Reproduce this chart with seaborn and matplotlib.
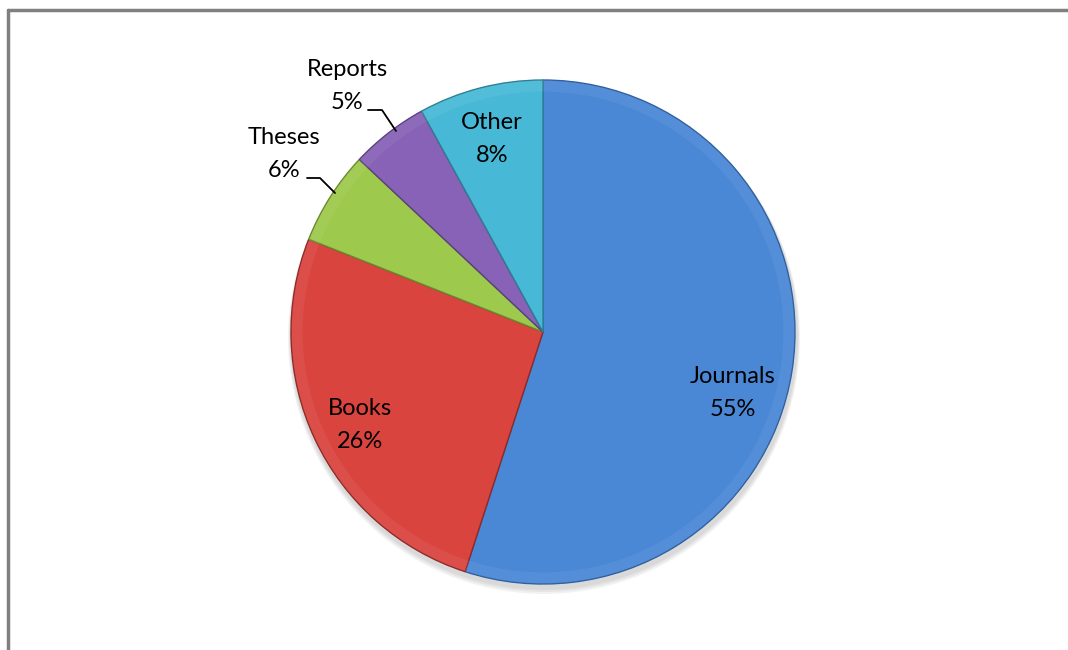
import matplotlib.pyplot as plt
import seaborn as sns
from matplotlib.patches import Circle

# data
categories = ['Journals', 'Books', 'Theses', 'Reports', 'Other']
shares = [55, 26, 6, 5, 8]
colors = ['#4a88d6', '#d9443f', '#9dc94c', '#8862b6', '#47b9d6']
edges = ['#2f5f9e', '#8e2a27', '#6a8a30', '#5a3f80', '#2d7f94']

# label placement in pixel coords (x, y from top)
label_pos = {
    'Journals': (733, 393),
    'Books': (360, 425),
    'Theses': (284, 154),
    'Reports': (347, 86),
    'Other': (492, 139),
}
leaders = {
    'Theses': [(307, 178), (320, 178), (335, 193)],
    'Reports': [(368, 110), (382, 110), (396, 131)],
}

W, H = 1068, 650
cx, cy, r = 543, 332, 252


def main():
    sns.set_theme(style='white')
    plt.rcParams['font.family'] = ['Lato', 'DejaVu Sans']

    fig = plt.figure(figsize=(W / 100, H / 100), dpi=100)
    ax = fig.add_axes([0, 0, 1, 1])

    # soft shadow
    for i in range(3):
        ax.add_patch(Circle((cx + 1, H - cy - 4 - i), r + 2 + i, color='black', alpha=0.05, lw=0, zorder=1))

    wedges, _ = ax.pie(shares, colors=colors, startangle=90, counterclock=False,
                       center=(cx, H - cy), radius=r, frame=True,
                       wedgeprops=dict(linewidth=1.0))
    for w, ec in zip(wedges, edges):
        w.set_edgecolor(ec)
        w.set_zorder(2)
    ax.set_xlim(0, W)
    ax.set_ylim(0, H)
    ax.set_aspect('equal')
    ax.axis('off')

    # subtle gloss rim
    ax.add_patch(Circle((cx, H - cy), r - 6, facecolor='none', edgecolor='white', alpha=0.06, lw=8, zorder=3))

    for cat, val in zip(categories, shares):
        x, y = label_pos[cat]
        ax.text(x, H - y, f'{cat}\n{val}%', ha='center', va='center', fontsize=17,
                color='black', linespacing=1.65, zorder=5)

    for cat, pts in leaders.items():
        xs = [p[0] for p in pts]
        ys = [H - p[1] for p in pts]
        ax.plot(xs, ys, color='black', lw=1.3, zorder=5)

    # frame lines at top and left
    ax.plot([8, W], [H - 10, H - 10], color='#808080', lw=2.5, zorder=6, clip_on=False)
    ax.plot([8, 8], [H - 10, 0], color='#808080', lw=2.5, zorder=6, clip_on=False)

    fig.savefig('out.png', dpi=100, facecolor='white')


if __name__ == '__main__':
    main()
